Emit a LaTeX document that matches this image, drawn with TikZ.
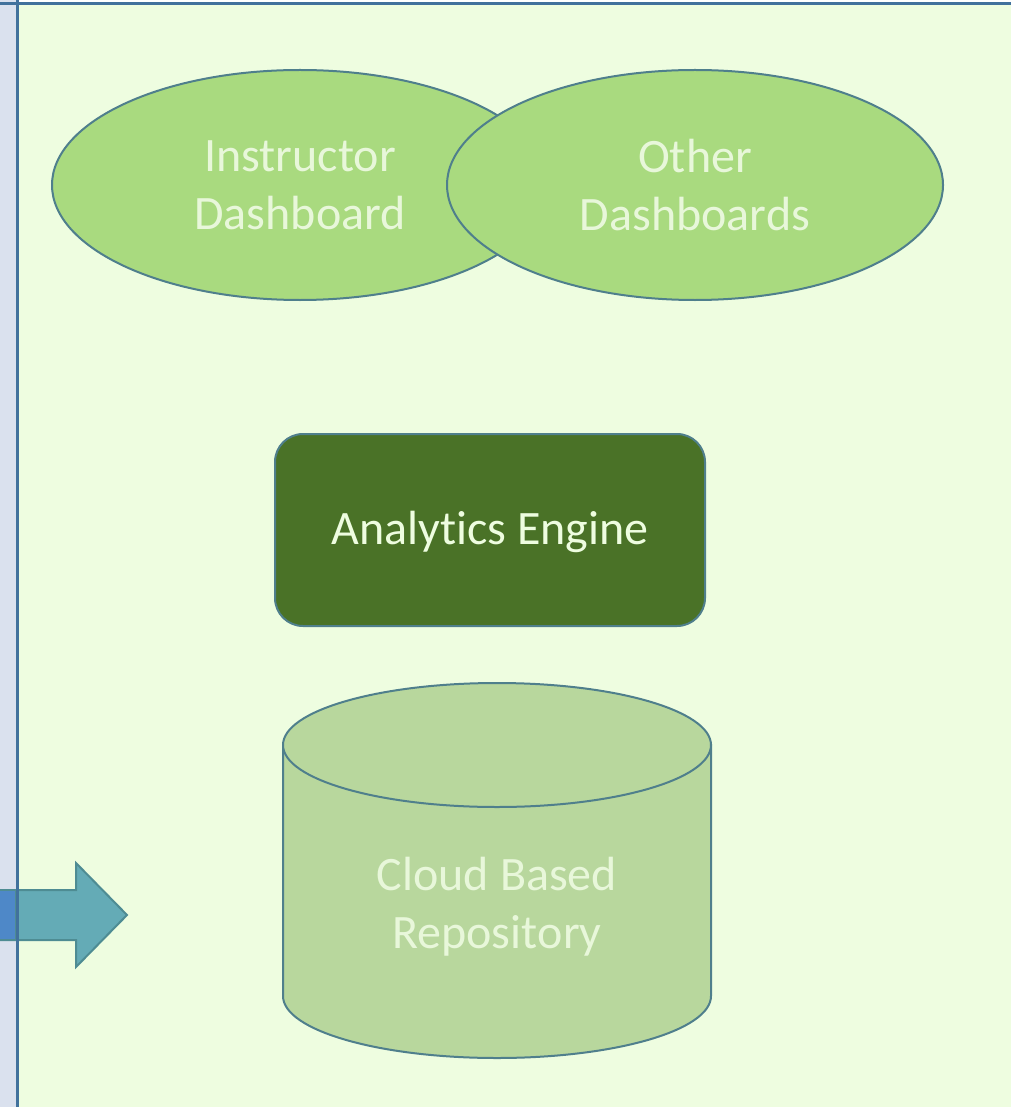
\documentclass[tikz,border=0pt]{standalone}
\usepackage{fontspec}
\setmainfont[Ligatures=NoCommon]{Carlito}
\usetikzlibrary{shapes.geometric}
\definecolor{stripbg}{HTML}{DAE1EE}
\definecolor{panelbg}{HTML}{EEFDE0}
\definecolor{frameblue}{HTML}{41719C}
\definecolor{dashfill}{HTML}{A9DA7F}
\definecolor{edgeteal}{HTML}{4F7F8C}
\definecolor{lighttext}{HTML}{E8F7DA}
\definecolor{enginefill}{HTML}{4A7227}
\definecolor{repofill}{HTML}{B8D79D}
\definecolor{arrowfill}{HTML}{64ABB6}
\definecolor{arrowedge}{HTML}{4E8C93}
\definecolor{arrowblue}{HTML}{4E88C8}
\begin{document}
\begin{tikzpicture}[x=1pt,y=-1pt,
  label text/.style={text=lighttext,font=\fontsize{48}{58}\selectfont,align=center},
  dashboard/.style={ellipse,draw=edgeteal,line width=2pt,fill=dashfill,
    minimum width=496pt,minimum height=230pt,inner sep=0pt,label text},
  engine/.style={rectangle,rounded corners=28pt,draw=edgeteal,line width=2pt,
    fill=enginefill,minimum width=430pt,minimum height=192pt,
    text=panelbg,font=\fontsize{48}{58}\selectfont},
  repo/.style={draw=edgeteal,line width=2pt,fill=repofill},
  flow/.style={draw=arrowedge,line width=2pt,fill=arrowfill}]
\useasboundingbox (0,0) rectangle (1011,1107);
% backgrounds
\fill[white] (0,0) rectangle (1011,1107);
\fill[stripbg] (0,0) rectangle (16,1107);
\fill[panelbg] (17,4) rectangle (1011,1107);

% incoming arrow
\draw[flow] (0,890) -- (76,890) -- (76,863) -- (127,915) -- (76,967)
  -- (76,940) -- (0,940) -- cycle;
\draw[draw=arrowedge,line width=2pt,fill=arrowblue] (-2,890) rectangle (16,940);

% frame lines
\draw[frameblue,line width=3pt] (0,4) -- (1011,4);
\draw[frameblue,line width=3pt] (17,0) -- (17,1107);

% dashboards
\node[dashboard] (instr) at (300,185) {Instructor\\Dashboard};
\node[dashboard] (other) at (695,185) {Other\\Dashboards};

% analytics engine
\node[engine,text depth=10pt,text height=38pt] (engine) at (490,530) {Analyt\kern0pt ics Engine};

% repository cylinder
\draw[repo] (283,745) -- (283,996)
  arc[start angle=180,end angle=0,x radius=214,y radius=62] -- (711,745) -- cycle;
\draw[repo] (497,745) ellipse[x radius=214,y radius=62];
\node[label text,text=lighttext] (repo) at (497,907) {Cloud Based\\Reposit\kern0pt ory};
\end{tikzpicture}
\end{document}
